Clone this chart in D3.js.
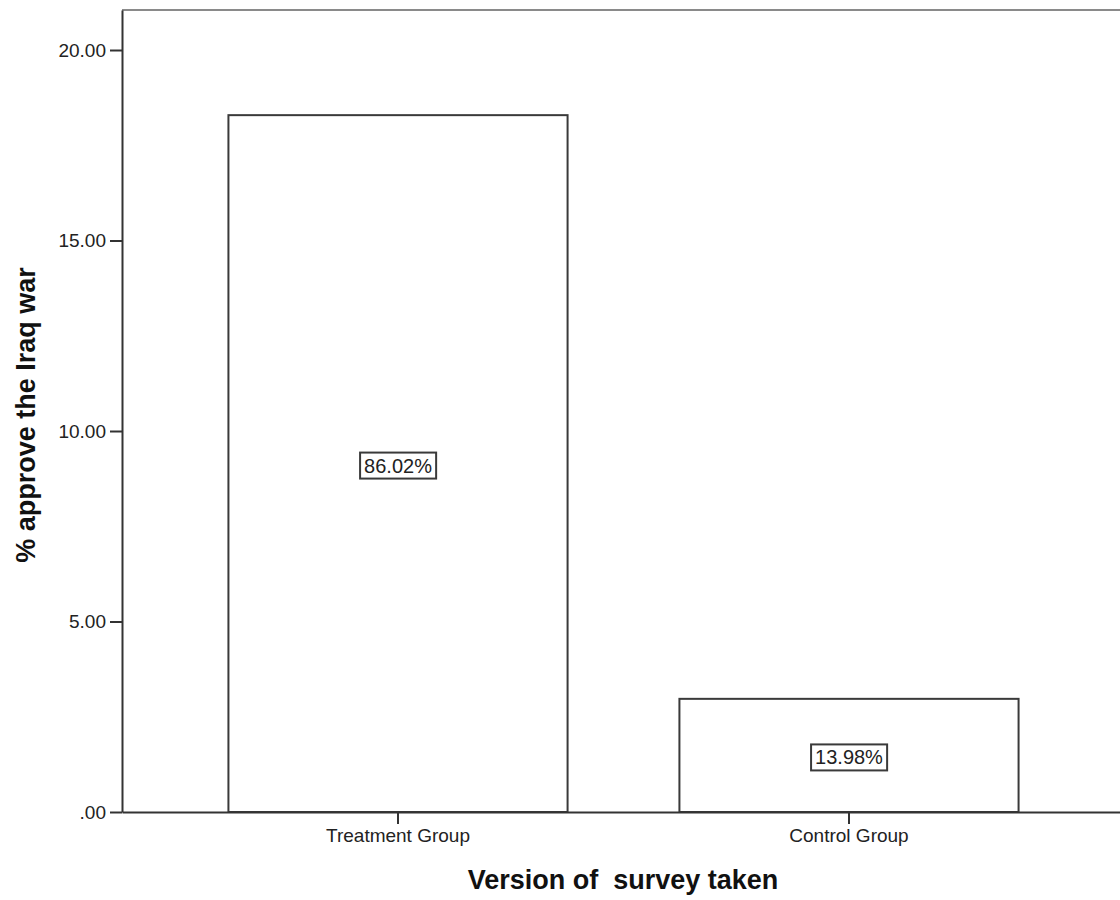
<!DOCTYPE html>
<html><head><meta charset="utf-8">
<script src="https://cdn.jsdelivr.net/npm/d3@7"></script>
<style>
body{margin:0;background:#fff;}
svg{display:block;}
text{font-family:"Liberation Sans",Arial,sans-serif;}
</style>
</head><body>
<svg id="chart" width="1120" height="900"></svg>
<script>
// ---- data ----
const categories = ["Treatment Group", "Control Group"];
const values = [18.29, 2.97];
const barLabels = ["86.02%", "13.98%"];
const yTicks = [0, 5, 10, 15, 20];
const yTickLabels = [".00", "5.00", "10.00", "15.00", "20.00"];
const yMax = 21.05;
const xTitle = "Version of  survey taken";
const yTitle = "% approve the Iraq war";

// ---- layout ----
const svg = d3.select("#chart");
const plotL = 122, plotR = 1125, plotT = 10, plotB = 812;

const x = d3.scaleBand().domain(categories).range([plotL, plotR])
  .paddingInner(0.248).paddingOuter(0.236);
const y = d3.scaleLinear().domain([0, yMax]).range([plotB, plotT]);

const ink = "#333";

// top frame line
svg.append("line")
  .attr("x1", plotL).attr("x2", plotR).attr("y1", plotT).attr("y2", plotT)
  .attr("stroke", "#8a8a8a").attr("stroke-width", 2);

// bars
svg.append("g").selectAll("rect").data(categories).join("rect")
  .attr("x", d => x(d))
  .attr("y", (d, i) => y(values[i]))
  .attr("width", x.bandwidth())
  .attr("height", (d, i) => y(0) - y(values[i]))
  .attr("fill", "#fff")
  .attr("stroke", "#3a3a3a")
  .attr("stroke-width", 2);

// y axis
const yAxis = svg.append("g").attr("transform", `translate(${plotL},0)`)
  .call(d3.axisLeft(y).tickValues(yTicks)
    .tickFormat((d, i) => yTickLabels[i])
    .tickSize(12).tickSizeOuter(0).tickPadding(4));
yAxis.select(".domain").attr("stroke", ink).attr("stroke-width", 2);
yAxis.selectAll(".tick line").attr("stroke", ink).attr("stroke-width", 2);
yAxis.selectAll(".tick text").attr("font-size", 19).attr("fill", "#222")
  .attr("font-family", "'Liberation Sans', Arial, sans-serif");

// x axis
const xAxis = svg.append("g").attr("transform", `translate(0,${plotB})`)
  .call(d3.axisBottom(x).tickSize(12).tickSizeOuter(0).tickPadding(5));
xAxis.select(".domain").attr("stroke", ink).attr("stroke-width", 2);
xAxis.selectAll(".tick line").attr("stroke", ink).attr("stroke-width", 2);
xAxis.selectAll(".tick text").attr("font-size", 19).attr("fill", "#222")
  .attr("font-family", "'Liberation Sans', Arial, sans-serif");

// bar value labels with boxes
const lab = svg.append("g").selectAll("g").data(categories).join("g")
  .attr("transform", (d, i) => `translate(${x(d) + x.bandwidth() / 2},${y(values[i] / 2) + 2})`);
lab.append("text")
  .attr("text-anchor", "middle").attr("dy", "0.35em")
  .attr("font-size", 20).attr("fill", "#222")
  .text((d, i) => barLabels[i]);
lab.each(function () {
  const g = d3.select(this);
  const bb = g.select("text").node().getBBox();
  g.insert("rect", "text")
    .attr("x", bb.x - 4).attr("y", bb.y - 2)
    .attr("width", bb.width + 8).attr("height", bb.height + 4)
    .attr("fill", "#fff").attr("stroke", "#3a3a3a").attr("stroke-width", 2);
});

// axis titles
svg.append("text")
  .attr("x", (plotL + 1120) / 2 + 2).attr("y", 889)
  .attr("text-anchor", "middle")
  .attr("font-size", 27).attr("font-weight", "bold").attr("fill", "#111")
  .style("white-space", "pre")
  .text(xTitle);

svg.append("text")
  .attr("transform", `translate(35,${415}) rotate(-90)`)
  .attr("text-anchor", "middle")
  .attr("font-size", 27).attr("font-weight", "bold").attr("fill", "#111")
  .text(yTitle);
</script>
</body></html>
